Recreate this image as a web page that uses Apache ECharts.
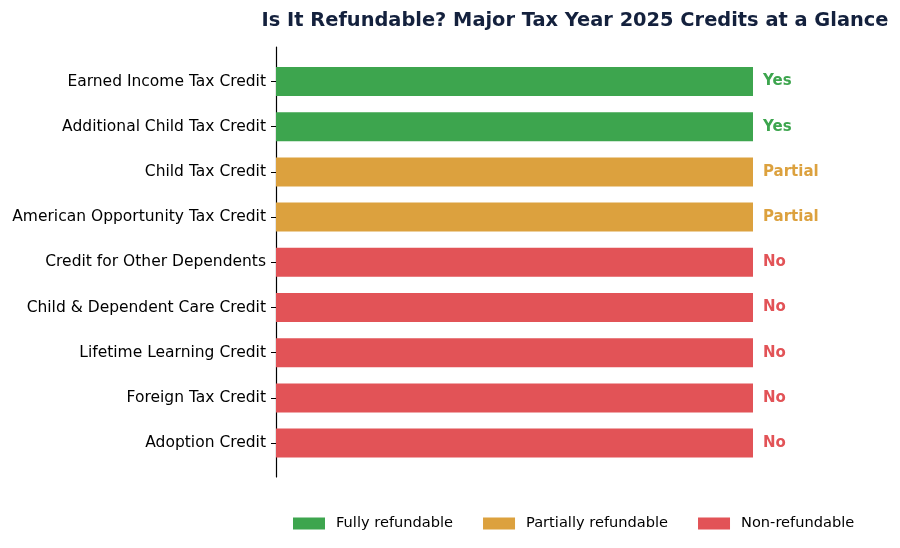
<!DOCTYPE html>
<html>
<head>
<meta charset="utf-8">
<script src="https://cdn.jsdelivr.net/npm/echarts@6/dist/echarts.min.js"></script>
<style>
  html, body { margin: 0; padding: 0; background: #fff; }
  #chart { width: 900px; height: 548px; }
</style>
</head>
<body>
<div id="chart"></div>
<script>
// credits, top to bottom
var credits = ['Earned Income Tax Credit', 'Additional Child Tax Credit', 'Child Tax Credit',
	'American Opportunity Tax Credit', 'Credit for Other Dependents', 'Child & Dependent Care Credit',
	'Lifetime Learning Credit', 'Foreign Tax Credit', 'Adoption Credit'];
var refundStatus = ['Yes', 'Yes', 'Partial', 'Partial', 'No', 'No', 'No', 'No', 'No'];
var groups = ['Fully refundable', 'Partially refundable', 'Non-refundable'];
var groupLabels = ['Yes', 'Partial', 'No'];
var colors = ['#3da54e', '#dca13e', '#e25357'];

var font = 'DejaVu Sans';

var series = groups.map(function (g, k) {
	return {
		name: g,
		type: 'bar',
		stack: 'all',
		xAxisIndex: 0,
		yAxisIndex: 0,
		barWidth: 29,
		itemStyle: { color: colors[k] },
		label: {
			show: true,
			position: 'right',
			distance: 10,
			formatter: groupLabels[k],
			color: colors[k],
			fontFamily: font,
			fontWeight: 'bold',
			fontSize: 15
		},
		data: refundStatus.map(function (s) { return s === groupLabels[k] ? 1 : '-'; })
	};
});

var chart = echarts.init(document.getElementById('chart'));
chart.setOption({
	animation: false,
	title: {
		text: 'Is It Refundable? Major Tax Year 2025 Credits at a Glance',
		left: 570, top: 6,
		textAlign: 'center',
		textStyle: { fontFamily: font, fontWeight: 'bold', fontSize: 19.4, color: '#14213d' }
	},
	legend: {
		data: groups,
		left: 293, top: 516,
		padding: 0,
		itemWidth: 32, itemHeight: 12, itemGap: 30,
		icon: 'rect',
		textStyle: { fontFamily: font, fontSize: 14.6, color: '#000', padding: [0, 0, 0, 6] }
	},
	grid: [
		{ left: 276, top: 58.9, width: 477, height: 406.8 },
		{ left: 276, top: 47, width: 477, height: 430 }
	],
	xAxis: [
		{ gridIndex: 0, type: 'value', min: 0, max: 1, show: false },
		{ gridIndex: 1, type: 'value', min: 0, max: 1, show: false }
	],
	yAxis: [
		{
			gridIndex: 0, type: 'category', inverse: true, data: credits,
			axisLine: { show: false },
			axisTick: { show: true, alignWithLabel: true, length: 5, lineStyle: { color: '#000' } },
			axisLabel: { margin: 10, fontFamily: font, fontSize: 15.5, color: '#000' }
		},
		{
			gridIndex: 1, type: 'value', min: 0, max: 1,
			axisLine: { show: true, lineStyle: { color: '#000', width: 1.2 } },
			axisTick: { show: false }, axisLabel: { show: false }, splitLine: { show: false }
		}
	],
	series: series
});
</script>
</body>
</html>
